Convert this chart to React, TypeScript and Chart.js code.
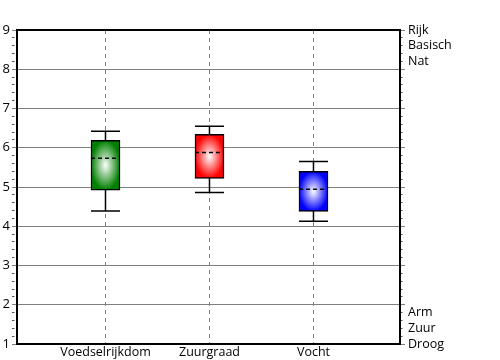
import React, { useEffect, useRef } from 'react';
import { Chart, registerables } from 'chart.js';

Chart.register(...registerables);

const categories = ['Voedselrijkdom', 'Zuurgraad', 'Vocht'];
const whiskerLow = [4.39, 4.86, 4.13];
const boxLow = [4.92, 5.22, 4.38];
const medians = [5.73, 5.88, 4.94];
const boxHigh = [6.19, 6.34, 5.4];
const whiskerHigh = [6.42, 6.55, 5.65];
const boxColors = ['#008000', '#ff0000', '#0000ff'];

const rightLabelValues = [9, 8.6, 8.2, 1.8, 1.4, 1];
const rightLabelTexts = ['Rijk', 'Basisch', 'Nat', 'Arm', 'Zuur', 'Droog'];

const FONT = "'Open Sans', sans-serif";
const BAR_W = 29;

function boxFill(ctx: any) {
  const i = ctx.dataIndex;
  if (i === undefined) return boxColors[0];
  const color = boxColors[i];
  const chart = ctx.chart;
  const xs = chart.scales?.x;
  const ys = chart.scales?.y;
  if (!xs || !ys) return color;
  const cx = xs.getPixelForValue(i + 1);
  const top = ys.getPixelForValue(boxHigh[i]);
  const bot = ys.getPixelForValue(boxLow[i]);
  const w = BAR_W;
  const h = bot - top;
  if (!(h > 0)) return color;
  const off = document.createElement('canvas');
  off.width = Math.ceil(w) + 2;
  off.height = Math.ceil(h) + 2;
  const o = off.getContext('2d')!;
  o.save();
  o.translate(w / 2, h / 2);
  o.scale(w / 2, h / 2);
  const g = o.createRadialGradient(0, 0, 0, 0, 0, 1);
  g.addColorStop(0, '#ffffff');
  g.addColorStop(1, color);
  o.fillStyle = g;
  o.fillRect(-2, -2, 4, 4);
  o.restore();
  const pat = chart.ctx.createPattern(off, 'no-repeat');
  if (!pat) return color;
  pat.setTransform(new DOMMatrix().translate(cx - w / 2, top));
  return pat;
}

const boxPlotExtras = {
  id: 'boxPlotExtras',
  beforeDatasetsDraw(chart: any) {
    const { ctx } = chart;
    const xs = chart.scales.x;
    const ys = chart.scales.y;
    ctx.save();
    ctx.strokeStyle = '#000';
    ctx.lineWidth = 1.5;
    categories.forEach((_, i) => {
      const cx = xs.getPixelForValue(i + 1);
      const yl = ys.getPixelForValue(whiskerLow[i]);
      const yh = ys.getPixelForValue(whiskerHigh[i]);
      ctx.beginPath();
      ctx.moveTo(cx, yl);
      ctx.lineTo(cx, yh);
      ctx.moveTo(cx - BAR_W / 2, yl);
      ctx.lineTo(cx + BAR_W / 2, yl);
      ctx.moveTo(cx - BAR_W / 2, yh);
      ctx.lineTo(cx + BAR_W / 2, yh);
      ctx.stroke();
    });
    ctx.restore();
  },
  afterDatasetsDraw(chart: any) {
    const { ctx } = chart;
    const xs = chart.scales.x;
    const ys = chart.scales.y;
    ctx.save();
    ctx.strokeStyle = '#000';
    ctx.lineWidth = 1.5;
    ctx.setLineDash([4, 3]);
    categories.forEach((_, i) => {
      const cx = xs.getPixelForValue(i + 1);
      const ym = ys.getPixelForValue(medians[i]);
      ctx.beginPath();
      ctx.moveTo(cx - BAR_W / 2, ym);
      ctx.lineTo(cx + BAR_W / 2, ym);
      ctx.stroke();
    });
    ctx.restore();
  },
  afterDraw(chart: any) {
    const { ctx, chartArea: a } = chart;
    ctx.save();
    ctx.strokeStyle = '#000';
    ctx.lineWidth = 2;
    ctx.strokeRect(a.left, a.top, a.right - a.left, a.bottom - a.top);
    ctx.restore();
  },
};

const isInt = (v: number) => Math.abs(v - Math.round(v)) < 1e-6;
const tickCol = (c: any) => (c.tick && isInt(c.tick.value) ? '#808080' : '#555');
const tickDash = (c: any) => (c.tick && isInt(c.tick.value) ? [] : [2.5, 20]);

export default function App() {
  const ref = useRef<HTMLCanvasElement | null>(null);
  useEffect(() => {
    if (!ref.current) return;
    const chart = new Chart(ref.current, {
      type: 'bar',
      data: {
        datasets: [
          {
            data: categories.map((_, i) => ({ x: i + 1, y: [boxLow[i], boxHigh[i]] })) as any,
            backgroundColor: boxFill as any,
            borderColor: '#000',
            borderWidth: 1.5,
            borderSkipped: false,
            barThickness: BAR_W,
          },
        ],
      },
      options: {
        animation: false,
        responsive: false,
        devicePixelRatio: 1,
        layout: { padding: { top: 30, left: 0, right: 0, bottom: 0 } },
        plugins: { legend: { display: false }, tooltip: { enabled: false } },
        scales: {
          x: {
            type: 'linear',
            min: 0.149,
            max: 3.832,
            offset: false,
            afterBuildTicks: (s: any) => {
              s.ticks = categories.map((_, i) => ({ value: i + 1 }));
            },
            afterFit: (s: any) => {
              s.height = 16;
            },
            ticks: {
              callback: (v: any) => categories[Math.round(Number(v)) - 1] ?? '',
              color: '#000',
              font: { family: FONT, size: 12.5 },
              padding: 1,
              maxRotation: 0,
              autoSkip: false,
            },
            grid: { color: '#808080', drawTicks: false, lineWidth: 1, offset: false },
            border: { display: false, dash: [4, 4] },
          },
          y: {
            type: 'linear',
            position: 'left',
            min: 1,
            max: 9,
            afterFit: (s: any) => {
              s.width = 17;
            },
            ticks: {
              stepSize: 0.2,
              autoSkip: false,
              color: '#000',
              font: { family: FONT, size: 13 },
              padding: 2,
              callback: (v: any) => (isInt(Number(v)) ? String(Math.round(Number(v))) : ''),
            },
            grid: {
              color: (c: any) => (c.tick && isInt(c.tick.value) ? '#808080' : 'rgba(0,0,0,0)'),
              tickColor: tickCol,
              tickBorderDash: tickDash,
              tickLength: 5,
              lineWidth: 1,
            },
            border: { display: false },
          },
          y2: {
            type: 'linear',
            position: 'right',
            min: 1,
            max: 9,
            afterFit: (s: any) => {
              s.width = 100;
            },
            ticks: {
              stepSize: 0.2,
              autoSkip: false,
              color: '#000',
              font: { family: FONT, size: 12.5 },
              padding: 3,
              callback: (v: any) => {
                const idx = rightLabelValues.findIndex((r) => Math.abs(r - Number(v)) < 1e-6);
                return idx >= 0 ? rightLabelTexts[idx] : '';
              },
            },
            grid: {
              drawOnChartArea: false,
              tickColor: tickCol,
              tickBorderDash: tickDash,
              tickLength: 5,
            },
            border: { display: false },
          },
        },
      },
      plugins: [boxPlotExtras],
    });
    return () => chart.destroy();
  }, []);
  return (
    <div style={{ position: 'absolute', left: 0, top: 0, width: 500, height: 360, background: '#fff' }}>
      <canvas ref={ref} width={500} height={360} style={{ width: 500, height: 360, display: 'block' }} />
    </div>
  );
}
